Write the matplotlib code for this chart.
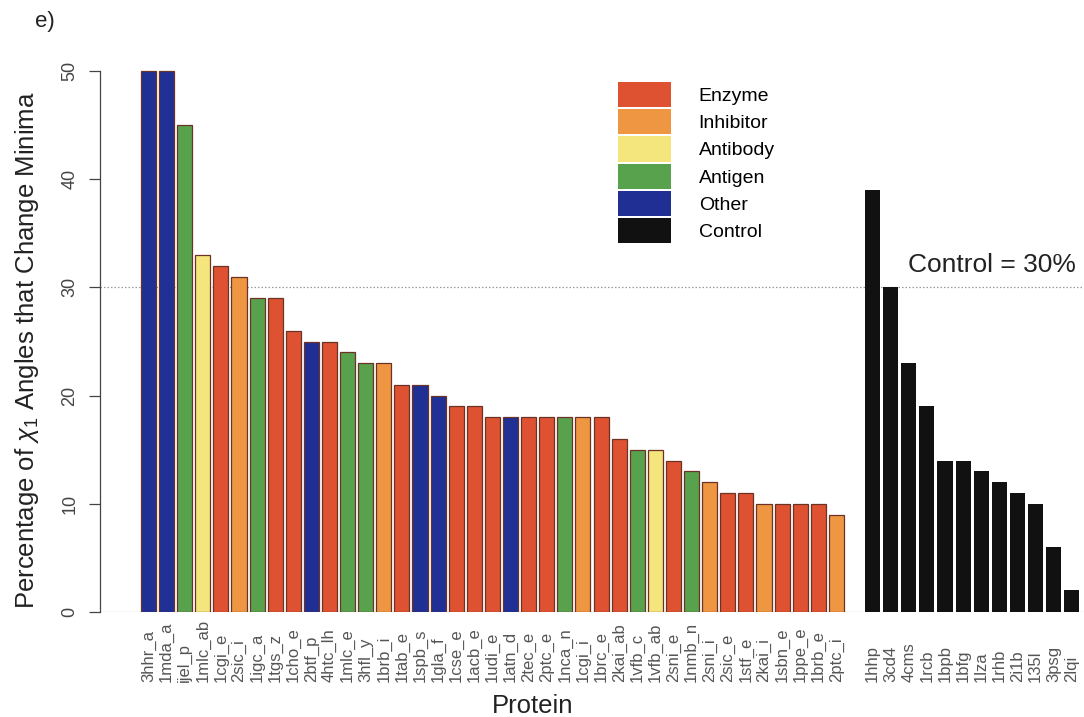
import matplotlib
matplotlib.use("Agg")
import matplotlib.pyplot as plt
from matplotlib.patches import Patch
from matplotlib.transforms import blended_transform_factory

plt.rcParams['font.family'] = ['Liberation Sans', 'DejaVu Sans']
plt.rcParams['mathtext.fontset'] = 'custom'
plt.rcParams['mathtext.rm'] = 'Liberation Sans'
plt.rcParams['mathtext.it'] = 'Liberation Sans:italic'

# Complexes, sorted by percentage of chi1 angles whose minimum changes
proteins = ["3hhr_a", "1mda_a", "ijel_p", "1mlc_ab", "1cgi_e", "2sic_i", "1igc_a",
            "1tgs_z", "1cho_e", "2btf_p", "4htc_lh", "1mlc_e", "3hfl_y", "1brb_i",
            "1tab_e", "1spb_s", "1gla_f", "1cse_e", "1acb_e", "1udi_e", "1atn_d",
            "2tec_e", "2ptc_e", "1nca_n", "1cgi_i", "1brc_e", "2kai_ab", "1vfb_c",
            "1vfb_ab", "2sni_e", "1nmb_n", "2sni_i", "2sic_e", "1stf_e", "2kai_i",
            "1sbn_e", "1ppe_e", "1brb_e", "2ptc_i"]
percent = [50, 50, 45, 33, 32, 31, 29, 29, 26, 25, 25, 24, 23, 23, 21, 21, 20,
           19, 19, 18, 18, 18, 18, 18, 18, 18, 16, 15, 15, 14, 13, 12, 11, 11,
           10, 10, 10, 10, 9]
kind = ["Other", "Other", "Antigen", "Antibody", "Enzyme", "Inhibitor", "Antigen",
        "Enzyme", "Enzyme", "Other", "Enzyme", "Antigen", "Antigen", "Inhibitor",
        "Enzyme", "Other", "Other", "Enzyme", "Enzyme", "Enzyme", "Other",
        "Enzyme", "Enzyme", "Antigen", "Inhibitor", "Enzyme", "Enzyme", "Antigen",
        "Antibody", "Enzyme", "Antigen", "Inhibitor", "Enzyme", "Enzyme", "Inhibitor",
        "Enzyme", "Enzyme", "Enzyme", "Inhibitor"]

# Control set
controls = ["1hhp", "3cd4", "4cms", "1rcb", "1bpb", "1bfg", "1lza", "1rhb",
            "2i1b", "135l", "3psg", "2lqi"]
control_percent = [39, 30, 23, 19, 14, 14, 13, 12, 11, 10, 6, 2]
control_level = 30

categories = ["Enzyme", "Inhibitor", "Antibody", "Antigen", "Other", "Control"]
palette = {"Enzyme": "#de5232", "Inhibitor": "#ee9642", "Antibody": "#f4e67c",
           "Antigen": "#58a24e", "Other": "#1f2f94", "Control": "#111111"}

fig = plt.figure(figsize=(10.84, 7.17), dpi=100)
ax = fig.add_axes([100 / 1084, 105 / 717, 984 / 1084, 551.8 / 717])

width = 0.833
x_main = list(range(len(proteins)))
x_ctrl = [len(proteins) + 1 + i for i in range(len(controls))]

ax.bar(x_main, percent, width=width, align='center',
       color=[palette[k] for k in kind], edgecolor='#6a3326', linewidth=0.9,
       zorder=2)
ax.bar(x_ctrl, control_percent, width=width, align='center',
       color=palette["Control"], edgecolor='none', zorder=2)

ax.axhline(control_level, color='#9a9a9a', linestyle=(0, (1.2, 1.6)),
           linewidth=0.9, zorder=1)
ax.axhline(0, color='#8a8a8a', linewidth=0.8, zorder=1)
ax.text(41.95, control_level + 1.0, "Control = 30%", fontsize=19,
        color='#222222', ha='left', va='bottom')

ax.set_xlim(-2.68, 51.68)
ax.set_ylim(0, 51)

for s in ("top", "right", "bottom"):
    ax.spines[s].set_visible(False)
ax.spines["left"].set_bounds(0, 50)
ax.spines["left"].set_color('#444444')
ax.spines["left"].set_linewidth(0.9)
ax.set_yticks([0, 10, 20, 30, 40, 50])
ax.tick_params(axis='y', length=8, width=0.9, color='#444444', pad=7.5,
               labelsize=13, labelcolor='#444444', labelrotation=90)
for lab in ax.get_yticklabels():
    lab.set_va('center')
ax.set_xticks([])

# rotated protein names, anchored at their start below the bars
trans = blended_transform_factory(ax.transData, ax.transAxes)
for xi, name in zip(x_main + x_ctrl, proteins + controls):
    ax.text(xi, -0.126, name, rotation=90, ha='center', va='bottom',
            fontsize=12, color='#555555', transform=trans)

fig.text(533 / 1084, 1 - 713 / 717, "Protein", fontsize=18.5, color='#222222',
         ha='center', va='baseline')
fig.text(27 / 1084, 1 - 350 / 717,
         r"Percentage of $\chi_1$ Angles that Change Minima",
         fontsize=18.5, color='#222222', rotation=90, ha='center', va='center')
fig.text(35 / 1084, 1 - 22 / 717, "e)", fontsize=16, color='#222222',
         ha='left', va='center')

handles = [Patch(facecolor=palette[c], edgecolor='none') for c in categories]
ax.legend(handles, categories, loc='upper left',
          bbox_to_anchor=(618 / 1084, 1 - 82 / 717), bbox_transform=fig.transFigure,
          frameon=False, fontsize=14, handlelength=2.75, handleheight=1.62,
          labelspacing=0.1, handletextpad=1.4, borderpad=0, borderaxespad=0)

fig.savefig("out.png", dpi=100, facecolor='white')
